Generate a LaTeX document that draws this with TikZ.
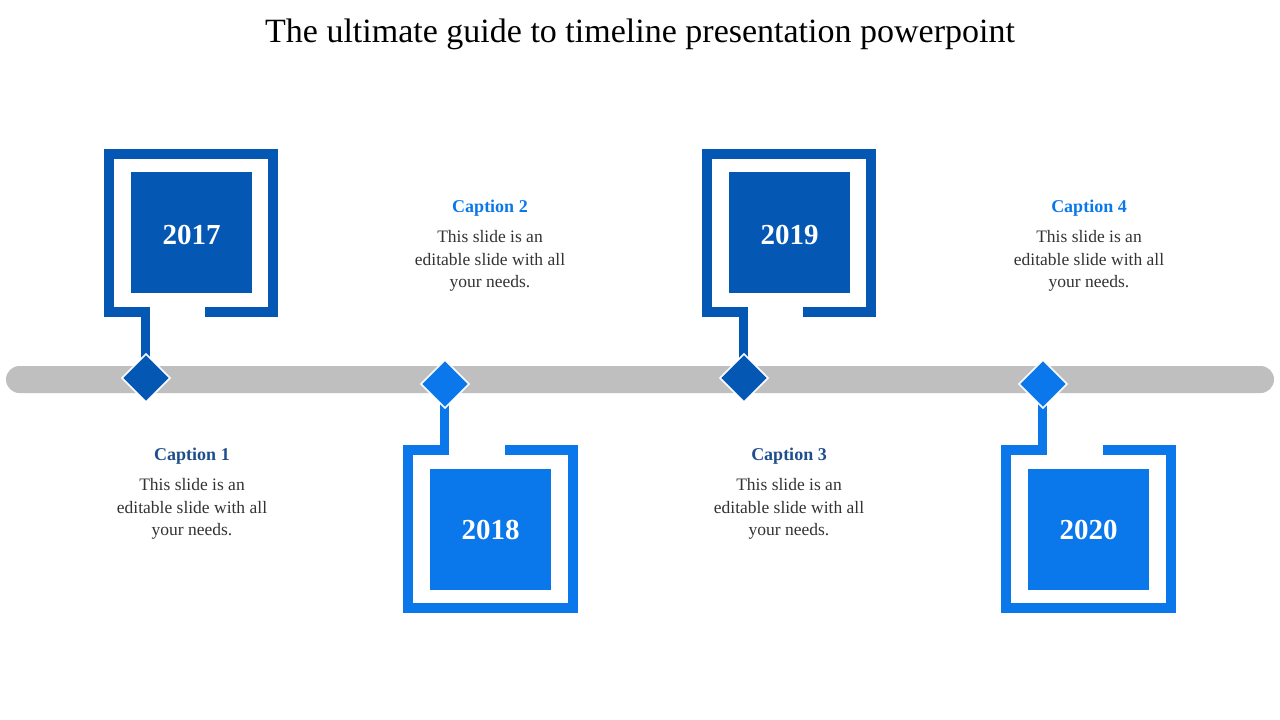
\documentclass[tikz,border=0pt]{standalone}
\usepackage{fontspec}
\setmainfont{Liberation Serif}
\begin{document}
\begin{tikzpicture}[x=1pt,y=-1pt,
  frame/.style={line width=9.5pt,line join=miter},
  yr/.style={font=\fontsize{29}{30}\selectfont\bfseries,text=white},
  captxt/.style={font=\fontsize{18}{20}\selectfont\bfseries},
  body/.style={font=\fontsize{17.5}{22.5}\selectfont,text=black!80,align=center},
  dia/.style={draw=white,line width=1.5pt}]
\definecolor{dk}{HTML}{0458B4}
\definecolor{lt}{HTML}{0A78EA}
\definecolor{cdk}{HTML}{1F4E8C}
\useasboundingbox (0,0) rectangle (1280,720);
\node[font=\fontsize{34}{36}\selectfont] (title) at (640,34) {The ultimate guide to timeline presentation powerpoint};
\fill[black!25,rounded corners=13.5pt] (6,366) rectangle (1274,393);
% frames top (dark)
\foreach \dx/\yt in {0/2017,598/2019}{
  \begin{scope}[xshift=\dx]
  \draw[frame,dk] (205,312) -- (273,312) -- (273,154) -- (109,154) -- (109,312) -- (145.5,312) -- (145.5,365);
  \fill[dk] (131,172) rectangle (252,293);
  \node[yr] at (191.5,235) {\yt};
  \fill[dk,dia] (146,354) -- (170,378) -- (146,402) -- (122,378) -- cycle;
  \end{scope}}
\foreach \dx/\yt in {0/2018,598/2020}{
  \begin{scope}[xshift=\dx]
  \draw[frame,lt] (505,450) -- (573,450) -- (573,608) -- (408,608) -- (408,450) -- (444.5,450) -- (444.5,395);
  \fill[lt] (430,469) rectangle (551,590);
  \node[yr] at (490.5,530) {\yt};
  \fill[lt,dia] (445,360) -- (469,384) -- (445,408) -- (421,384) -- cycle;
  \end{scope}}
\node[captxt,text=cdk] (c1) at (192,456) {Caption 1};
\node[body] (b1) at (192,509) {This slide is an\\editable slide with all\\your needs.};
\node[captxt,text=lt] (c2) at (490,208) {Caption 2};
\node[body] (b2) at (490,261) {This slide is an\\editable slide with all\\your needs.};
\node[captxt,text=cdk] (c3) at (789,456) {Caption 3};
\node[body] (b3) at (789,509) {This slide is an\\editable slide with all\\your needs.};
\node[captxt,text=lt] (c4) at (1089,208) {Caption 4};
\node[body] (b4) at (1089,261) {This slide is an\\editable slide with all\\your needs.};
\end{tikzpicture}
\end{document}
